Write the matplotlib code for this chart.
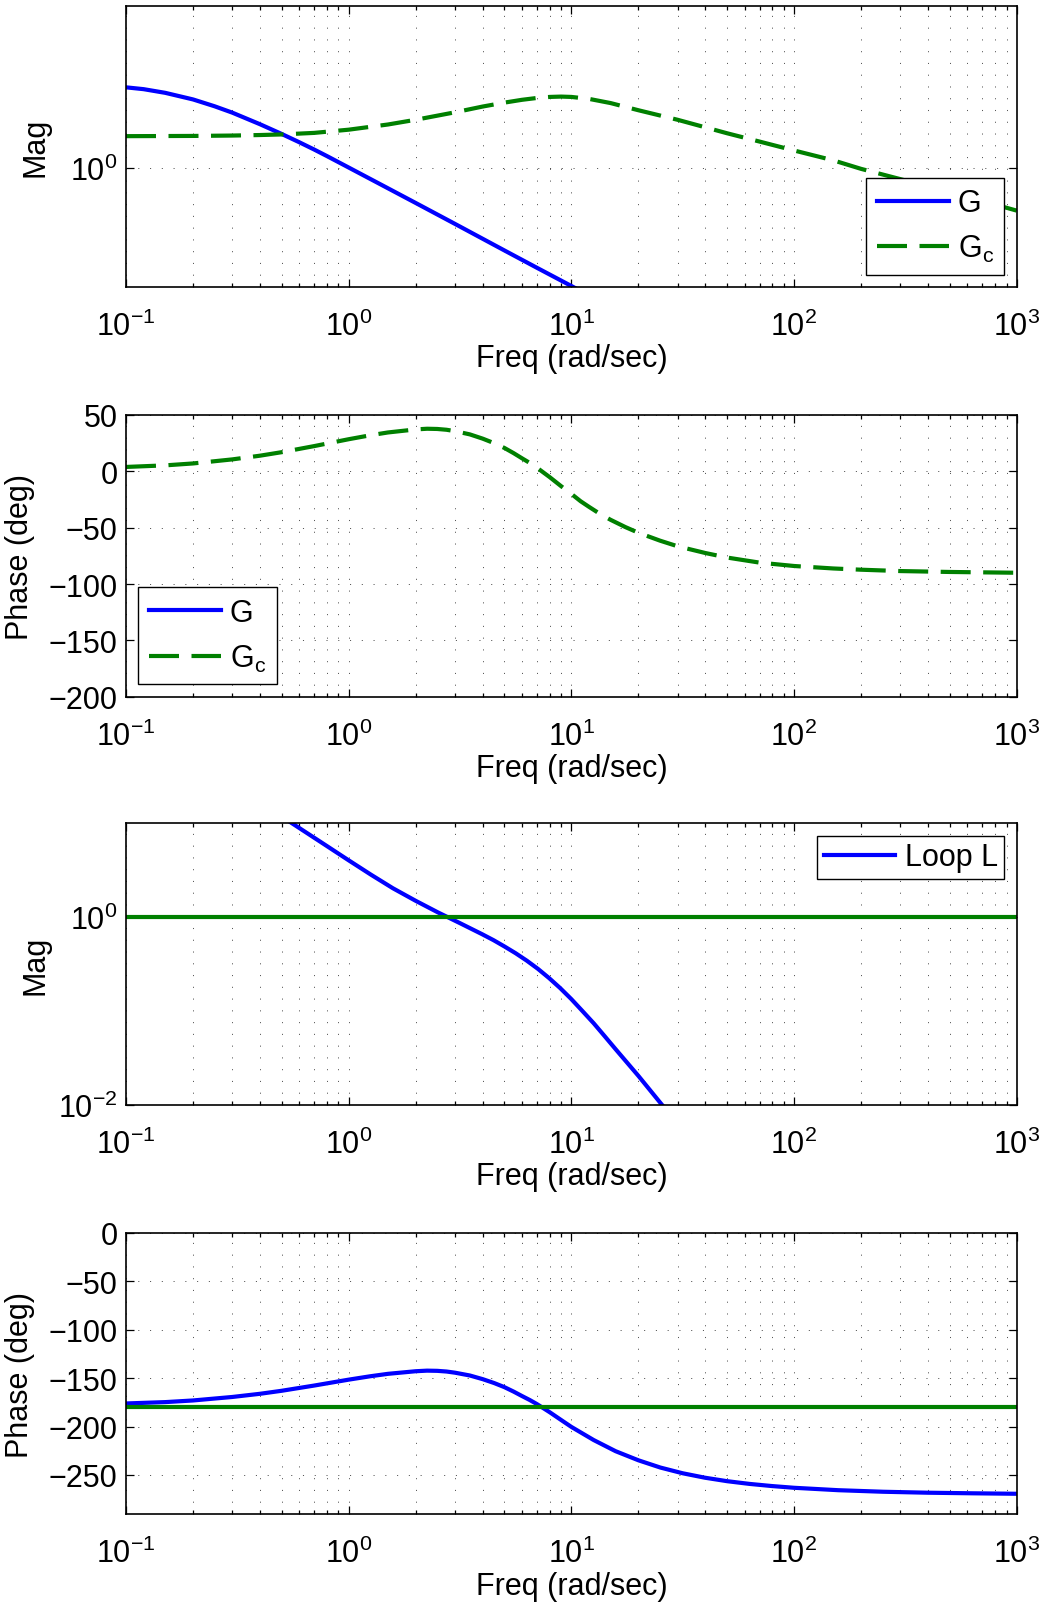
import matplotlib
matplotlib.use('Agg')
import matplotlib.pyplot as plt
from matplotlib.ticker import LogLocator, NullLocator, FixedLocator

plt.rcParams['font.family'] = ['Liberation Sans', 'DejaVu Sans']
plt.rcParams['mathtext.fontset'] = 'custom'
plt.rcParams['mathtext.rm'] = 'Liberation Sans'
plt.rcParams['mathtext.it'] = 'Liberation Sans:italic'
plt.rcParams['font.size'] = 22

# plant G, magnitude (panel 1)
w_G = [0.1, 0.12, 0.15, 0.2, 0.25, 0.3, 0.4, 0.5, 0.6, 0.7, 0.8, 1, 1.5, 2, 3, 5, 7, 10, 12]
G_mag = [22, 20.5, 17.8, 13.8, 10.6, 8.3, 5.3, 3.65, 2.65, 2.0, 1.55, 1.0, 0.45, 0.255, 0.114, 0.041,
         0.021, 0.0104, 0.0072]

# compensator Gc, magnitude (panel 1)
w_Gc = [0.1, 0.2, 0.3, 0.4, 0.5, 0.7, 1, 1.5, 2, 3, 4, 5, 6, 7, 8, 9, 10, 12, 15, 20, 30, 50, 70,
        100, 150, 200, 300, 500, 700, 1000]
Gc_mag = [3.35, 3.38, 3.43, 3.5, 3.58, 3.8, 4.3, 5.25, 6.3, 8.4, 10.5, 12.2, 13.6, 14.6, 15.2, 15.4, 15.2,
          14.1, 12.0, 9.1, 6.3, 3.75, 2.72, 1.93, 1.32, 0.95, 0.64, 0.385, 0.275, 0.19]

# compensator Gc, phase (panel 2)
w_Gph = [0.1, 0.15, 0.2, 0.3, 0.4, 0.5, 0.7, 1, 1.25, 1.5, 2, 2.25, 2.5, 2.75, 3, 3.5, 4, 4.5, 5, 5.5,
         6, 6.5, 7, 8, 9, 10, 11, 12, 13.5, 15, 17.5, 20, 25, 30, 40, 50, 70, 100, 150, 200, 300, 500, 1000]
Gc_ph = [3.9, 5.3, 7.0, 10.6, 13.9, 17.0, 22.4, 28.5, 32.0, 34.5, 37.2, 37.8, 37.6, 36.9, 35.7, 32.8,
         29.0, 25.0, 20.8, 16.2, 11.6, 7.5, 3.3, -5.2, -13.2, -20.0, -26.5, -31.5, -38.0, -43.0, -49.5,
         -54.5, -61.5, -66.5, -72.5, -76.5, -81.0, -84.0, -86.2, -87.3, -88.5, -89.3, -90.0]

# loop L = G*Gc, magnitude (panel 3)
w_L = [0.501, 0.631, 0.794, 1, 1.26, 1.58, 2.0, 2.51, 3.16, 3.98, 4.47, 5.01, 5.62, 6.31, 7.08, 7.94,
       8.91, 10, 11.2, 12.6, 14.1, 15.8, 20.0, 25.1, 31.6]
L_mag = [11.78, 8.24, 5.77, 4.03, 2.83, 2.03, 1.491, 1.126, 0.862, 0.656, 0.568, 0.486, 0.412, 0.343,
         0.2805, 0.224, 0.175, 0.1335, 0.100, 0.0738, 0.0539, 0.0391, 0.0203, 0.01047, 0.0054]

# loop L, phase (panel 4)
w_Lph = [0.1, 0.15, 0.2, 0.3, 0.4, 0.5, 0.7, 1, 1.25, 1.5, 2, 2.25, 2.5, 2.75, 3, 3.5, 4, 4.5, 5, 5.5,
         6, 6.5, 7, 8, 9, 10, 12.6, 15.8, 20, 25.1, 31.6, 39.8, 50.1, 63.1, 79.4, 100, 158, 251, 398, 631, 1000]
L_ph = [-176.1, -174.7, -173.0, -169.4, -166.1, -163.0, -157.6, -151.5, -148.0, -145.5, -142.8, -142.2,
        -142.4, -143.1, -144.3, -147.2, -151.0, -155.0, -159.2, -163.8, -168.4, -172.5, -176.7, -185.2,
        -193.2, -200.3, -213.9, -225.4, -234.8, -242.3, -248.2, -252.8, -256.4, -259.2, -261.4, -263.2,
        -265.7, -267.3, -268.3, -268.9, -269.4]

unity_mag = 1.0
crit_phase = -180.0

xlabel = 'Freq (rad/sec)'
blue = (0, 0, 1)
green = (0, 0.5, 0)
dash = (0, (7.2, 3.0))

fig = plt.figure(figsize=(10.5, 16.06), dpi=100)
W, H = 1050.0, 1606.0
left, right = 126.0, 1016.7
boxes = [(7.3, 288.0), (416.0, 697.7), (824.3, 1105.7), (1234.0, 1515.3)]
axs = []
for top, bot in boxes:
    axs.append(fig.add_axes([left / W, 1 - bot / H, (right - left) / W, (bot - top) / H]))


def style(ax, ylab, lab_x):
    ax.set_xscale('log')
    ax.set_xlim(0.1, 1000)
    ax.xaxis.set_major_locator(FixedLocator([0.1, 1, 10, 100, 1000]))
    ax.xaxis.set_minor_locator(LogLocator(base=10, subs=range(2, 10), numticks=20))
    ax.tick_params(which='both', direction='in', top=True, right=True, width=0.9, color='k')
    ax.tick_params(which='major', length=6, labelsize=22)
    ax.tick_params(which='minor', length=3)
    ax.tick_params(axis='x', which='major', pad=17)
    ax.tick_params(axis='y', which='major', pad=6)
    for s in ax.spines.values():
        s.set_linewidth(1.2)
    ax.grid(True, which='both', axis='x', color='0.15', linestyle=(0, (1.4, 14)), linewidth=0.55)
    ax.grid(True, which='major', axis='y', color='0.15', linestyle=(0, (1.4, 14)), linewidth=0.55)
    ax.set_xlabel(xlabel)
    ax.xaxis.set_label_coords(0.5, -0.2)
    ax.set_ylabel(ylab)
    ax.yaxis.set_label_coords(lab_x, 0.5)


leg_kw = dict(fancybox=False, edgecolor='k', framealpha=1, handlelength=2.35, handletextpad=0.3,
              borderaxespad=0.4)

# panel 1: magnitude of G and Gc
ax = axs[0]
ax.plot(w_G, G_mag, color=blue, lw=3, label='G')
ax.plot(w_Gc, Gc_mag, color=green, lw=3, linestyle=dash, label=r'$\mathdefault{G_c}$')
ax.set_yscale('log')
ax.set_ylim(0.01, 500)
ax.yaxis.set_major_locator(FixedLocator([1]))
ax.yaxis.set_minor_locator(NullLocator())
style(ax, 'Mag', -0.0853)
lg = ax.legend(loc='lower right', labelspacing=0.48, borderpad=0.35, **leg_kw)
lg.get_frame().set_linewidth(1.0)

# panel 2: phase of Gc (G's phase lies above the shown range)
ax = axs[1]
ax.plot([], [], color=blue, lw=3, label='G')
ax.plot(w_Gph, Gc_ph, color=green, lw=3, linestyle=dash, label=r'$\mathdefault{G_c}$')
ax.set_ylim(-200, 50)
ax.set_yticks([50, 0, -50, -100, -150, -200])
style(ax, 'Phase (deg)', -0.102)
lg = ax.legend(loc='lower left', labelspacing=0.48, borderpad=0.35, **leg_kw)
lg.get_frame().set_linewidth(1.0)

# panel 3: loop magnitude
ax = axs[2]
ax.plot(w_L, L_mag, color=blue, lw=3, label='Loop L')
ax.axhline(unity_mag, color=green, lw=3)
ax.set_yscale('log')
ax.set_ylim(0.01, 10)
ax.yaxis.set_major_locator(FixedLocator([0.01, 1]))
ax.yaxis.set_minor_locator(NullLocator())
style(ax, 'Mag', -0.0853)
lg = ax.legend(loc='upper right', labelspacing=0.3, borderpad=0.22, **leg_kw)
lg.get_frame().set_linewidth(1.0)

# panel 4: loop phase
ax = axs[3]
ax.plot(w_Lph, L_ph, color=blue, lw=3)
ax.axhline(crit_phase, color=green, lw=3)
ax.set_ylim(-290.6, 0)
ax.set_yticks([0, -50, -100, -150, -200, -250])
style(ax, 'Phase (deg)', -0.102)

fig.savefig('out.png', dpi=100)
